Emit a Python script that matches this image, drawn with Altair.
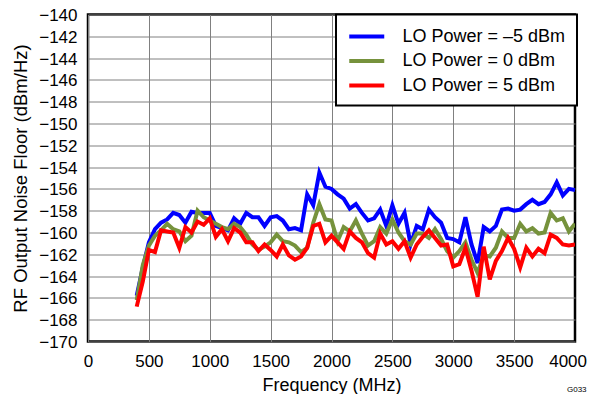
import altair as alt
import pandas as pd

freq = list(range(400, 4001, 50))

blue = [-165.8, -163.2, -160.9, -159.7, -159.1, -158.8, -158.2, -158.4, -159.1, -158.1,
        -158.2, -158.2, -158.2, -159.4, -159.6, -159.8, -158.7, -159.2, -158.2, -158.6,
        -158.6, -159.4, -158.6, -158.5, -158.9, -159.7, -159.6, -159.8, -156.5, -157.5,
        -154.5, -155.8,
        -156.0, -156.5, -156.9, -157.8, -157.4, -158.2, -158.9, -158.7, -157.9, -159.4,
        -157.5, -159.2, -158.2, -161.1, -159.4, -159.7, -157.9, -158.6, -159.1, -160.5,
        -160.6, -160.9, -158.6, -161.1, -162.8, -159.5, -159.9, -159.4, -157.9, -157.8,
        -158.0, -157.9, -157.4, -157.0, -157.4, -157.2, -156.5, -155.4, -156.6, -156.0,
        -156.1]

green = [-166.2, -163.0, -161.2, -160.3, -159.8, -159.2, -159.7, -159.9, -160.8, -160.3,
         -158.0, -158.6, -158.9, -159.2, -159.5, -159.7, -159.2, -159.5, -160.2, -161.1,
         -161.6, -161.3, -160.9, -160.2, -160.8, -160.9, -161.2, -161.8, -161.4, -159.1,
         -157.4, -158.8,
         -158.9, -160.8, -159.5, -159.9, -158.9, -160.1, -161.2, -160.8, -159.5, -160.1,
         -158.8, -160.0, -160.8, -161.1, -160.1, -160.1, -160.5, -159.7, -160.6, -161.7,
         -162.3, -161.7, -160.9, -162.5, -163.7, -162.1, -162.2, -161.4, -159.9, -160.5,
         -160.5, -159.2, -159.9, -159.6, -160.1, -160.0, -158.2, -158.9, -158.7, -159.9,
         -159.2]

red = [-166.8, -164.5, -161.6, -161.8, -159.8, -159.9, -160.0, -161.4, -159.5, -160.0,
       -159.0, -159.3, -158.7, -160.4, -159.7, -160.8, -159.6, -160.0, -160.9, -160.9,
       -161.7, -161.1, -161.6, -162.2, -161.1, -162.1, -162.5, -162.2, -161.4, -159.4,
       -159.2, -160.9,
       -160.3, -160.9, -161.5, -159.9, -160.5, -160.9, -161.9, -162.3, -160.1, -161.1,
       -160.8, -161.5, -160.8, -162.3, -161.1, -160.4, -159.8, -160.5, -161.2, -161.1,
       -163.1, -162.9, -161.4, -163.5, -165.9, -161.3, -164.3, -162.6, -161.7, -160.5,
       -161.5, -163.2, -161.4, -162.2, -161.5, -161.9, -160.2, -160.5, -161.1, -161.2,
       -161.1]

series_names = ["LO Power = \u20135 dBm", "LO Power = 0 dBm", "LO Power = 5 dBm"]
colors = ["#0000FF", "#76923C", "#FF0000"]
x_ticks = list(range(0, 3501, 500))   # 4000 is drawn as a separate label to stay inside the page
x_last = [4000]
y_ticks = list(range(-170, -139, 2))

rows = []
for name, vals in zip(series_names, [blue, green, red]):
    for f, v in zip(freq, vals):
        rows.append({"freq": f, "noise": v, "series": name})
df = pd.DataFrame(rows)

FONT = "Liberation Sans"

x_enc = alt.X("freq:Q",
              scale=alt.Scale(domain=[0, 4000], nice=False, zero=False),
              axis=alt.Axis(values=x_ticks, title="Frequency (MHz)", format="d",
                            labelFontSize=17, titleFontSize=18, labelPadding=12,
                            tickSize=0, ticks=False, domain=False, labelFlush=False,
                            labelOverlap=False, gridColor="#808080", gridWidth=1,
                            titleFontWeight="normal", titleBaseline="alphabetic",
                            titleY=49, titleX=243.5, labelColor="black", titleColor="black"))

lines = alt.Chart(df).mark_line(strokeWidth=4, clip=True).encode(
    x=x_enc,
    y=alt.Y("noise:Q",
            scale=alt.Scale(domain=[-170, -140], nice=False, zero=False),
            axis=alt.Axis(values=y_ticks, title="RF Output Noise Floor (dBm/Hz)",
                          labelFontSize=17, titleFontSize=18.5, labelPadding=11,
                          labelOffset=1,
                          tickSize=0, ticks=False, domain=False, labelFlush=False,
                          labelOverlap=False, gridColor="#808080", gridWidth=1,
                          titleFontWeight="normal", titleAngle=270,
                          titleAlign="center", titleBaseline="middle",
                          titleX=-68, titleY=163.5,
                          labelColor="black", titleColor="black")),
    color=alt.Color("series:N",
                    scale=alt.Scale(domain=series_names, range=colors),
                    sort=series_names,
                    legend=alt.Legend(orient="none", legendX=248, legendY=0,
                                      title=None, symbolType="M-2,0L2,0",
                                      symbolSize=306.25, symbolStrokeWidth=4,
                                      symbolOffset=8.75,
                                      labelFontSize=18, labelOffset=24.75,
                                      labelExpr="datum.label + '\u00a0\u00a0'",
                                      rowPadding=4.5, padding=11,
                                      strokeColor="black", fillColor="white",
                                      labelLimit=0, labelColor="black")),
)

last_label = alt.Chart(pd.DataFrame({"freq": x_last, "lab": ["4000"]})).mark_text(
    fontSize=17, align="right", baseline="top", dx=12, color="black", clip=False
).encode(x=alt.X("freq:Q"), y=alt.value(339), text="lab:N")

tag = alt.Chart(pd.DataFrame({"t": ["G033"]})).mark_text(
    fontSize=8, align="left", baseline="alphabetic", color="black"
).encode(text="t:N", x=alt.value(479), y=alt.value(377))

chart = alt.layer(lines, last_label, tag).properties(
    width=487, height=327,
    autosize=alt.AutoSizeParams(type="none"),
    padding={"left": 80, "top": 6.5, "right": 12, "bottom": 52},
).configure(font=FONT).configure_view(stroke="black", strokeWidth=2.5
).configure_legend(strokeWidth=2)

chart.save("out.html", embed_options={"renderer": "svg", "actions": False})
